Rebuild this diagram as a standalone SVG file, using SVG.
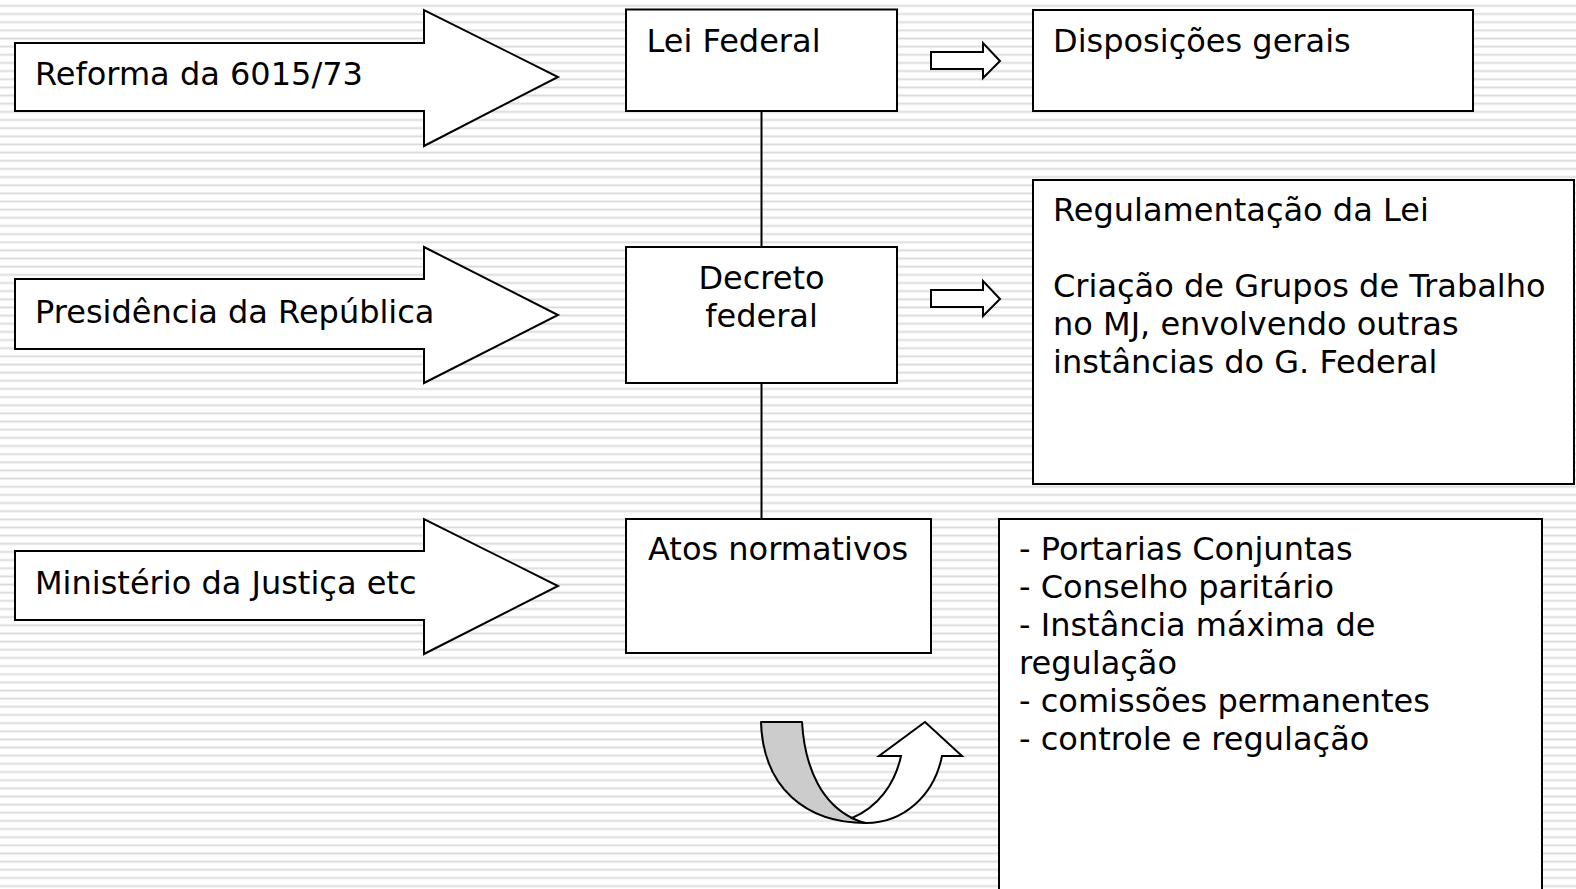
<svg xmlns="http://www.w3.org/2000/svg" width="1576" height="889" viewBox="0 0 1576 889">
<defs>
<pattern id="stripes" patternUnits="userSpaceOnUse" x="0" y="0" width="20" height="8.15">
<rect x="0" y="0" width="20" height="8.15" fill="#ffffff"/>
<rect x="0" y="5" width="20" height="1.3" fill="#d9d9d9"/>
<rect x="0" y="6.3" width="20" height="1" fill="#ededed"/>
</pattern>
<style>
.box{fill:#ffffff;stroke:#000000;stroke-width:2}
.arr{fill:#ffffff;stroke:#000000;stroke-width:2;stroke-linejoin:miter}
.t{font-family:"DejaVu Sans","Liberation Sans",sans-serif;font-size:32px;fill:#000000}
.mid{text-anchor:middle}
.conn{stroke:#000000;stroke-width:2;fill:none}
</style>
</defs>
<rect x="0" y="0" width="1576" height="889" fill="url(#stripes)"/>

<g id="connectors">
<line class="conn" x1="761.5" y1="111" x2="761.5" y2="247"/>
<line class="conn" x1="761.5" y1="383" x2="761.5" y2="519"/>
</g>

<g id="arrow-reforma">
<polygon class="arr" points="15,43 424,43 424,10 558,77 424,146 424,111 15,111"/>
<text class="t" x="35" y="85">Reforma da 6015/73</text>
</g>
<g id="arrow-presidencia">
<polygon class="arr" points="15,279 424,279 424,247 558,315 424,383 424,349 15,349"/>
<text class="t" x="35" y="323">Presidência da República</text>
</g>
<g id="arrow-ministerio">
<polygon class="arr" points="15,551 424,551 424,519 558,586 424,654 424,620 15,620"/>
<text class="t" x="35" y="594">Ministério da Justiça etc</text>
</g>

<g id="lei-federal">
<rect class="box" x="626" y="9.5" width="271" height="101.5"/>
<text class="t" x="646.5" y="51.7">Lei Federal</text>
</g>
<g id="decreto-federal">
<rect class="box" x="626" y="247" width="271" height="136"/>
<text class="t mid" x="761.5" y="289">Decreto</text>
<text class="t mid" x="761.5" y="327">federal</text>
</g>
<g id="atos-normativos">
<rect class="box" x="626" y="519" width="305" height="134"/>
<text class="t" x="648" y="560">Atos normativos</text>
</g>

<g id="small-arrow-1">
<polygon class="arr" points="931,52 983,52 983,43 1000,61 983,78 983,69 931,69"/>
</g>
<g id="small-arrow-2">
<polygon class="arr" points="931,290 983,290 983,281 1000,299 983,316 983,307 931,307"/>
</g>

<g id="disposicoes">
<rect class="box" x="1033" y="10" width="440" height="101"/>
<text class="t" x="1053" y="52">Disposições gerais</text>
</g>
<g id="regulamentacao">
<rect class="box" x="1033" y="180" width="541" height="304"/>
<text class="t" x="1053" y="221">Regulamentação da Lei</text>
<text class="t" x="1053" y="297">Criação de Grupos de Trabalho</text>
<text class="t" x="1053" y="335">no MJ, envolvendo outras</text>
<text class="t" x="1053" y="373">instâncias do G. Federal</text>
</g>
<g id="portarias">
<rect class="box" x="999" y="519" width="543" height="380"/>
<text class="t" x="1019" y="560">- Portarias Conjuntas</text>
<text class="t" x="1019" y="598">- Conselho paritário</text>
<text class="t" x="1019" y="636">- Instância máxima de</text>
<text class="t" x="1019" y="674">regulação</text>
<text class="t" x="1019" y="712">- comissões permanentes</text>
<text class="t" x="1019" y="750">- controle e regulação</text>
</g>

<g id="uturn-arrow">
<path d="M761,722 L802,722 C805,772 824,804 852,818 L866,823 C806,823 763,788 761,722 Z" fill="#cccccc" stroke="#000000" stroke-width="2" stroke-linejoin="round"/>
<path d="M852,818 C878,807 895,784 901,756 L879,756 L925,722 L962,756 L942,756 C934,796 903,823 866,823 C860,822 856,820 852,818 Z" fill="#ffffff" stroke="#000000" stroke-width="2" stroke-linejoin="miter"/>
</g>
</svg>
